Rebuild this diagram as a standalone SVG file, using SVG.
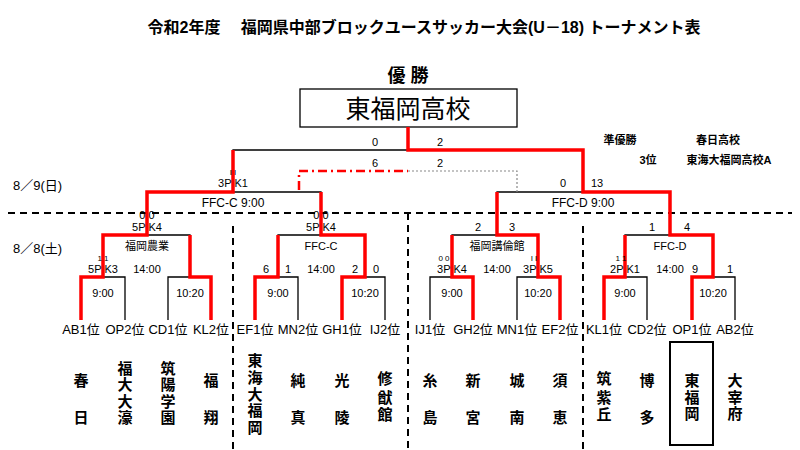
<svg xmlns="http://www.w3.org/2000/svg" width="800" height="450" viewBox="0 0 800 450">
<style>
text{font-family:"Liberation Sans","Noto Sans CJK JP",sans-serif;fill:#000}
.s{font-size:11px;text-anchor:middle}
.m{font-size:12px;text-anchor:middle}
.l{font-size:13px;text-anchor:middle}
.n{font-size:15px;text-anchor:middle;font-weight:bold}
.b{fill:none;stroke:#000;stroke-width:1.3}
.r{fill:none;stroke:#f00;stroke-width:3.5;stroke-linejoin:miter}
.d{fill:none;stroke:#000;stroke-width:2;stroke-dasharray:7,5}
</style>
<rect width="800" height="450" fill="#fff"/>
<text x="424" y="33" style="font-size:16px;font-weight:bold;text-anchor:middle">令和2年度　 福岡県中部ブロックユースサッカー大会(U－18)  トーナメント表</text>
<text x="408" y="82" style="font-size:18px;font-weight:bold;text-anchor:middle">優 勝</text>
<g id="champion"><rect x="300" y="89" width="217" height="38" fill="#fff" stroke="#000" stroke-width="1.3"/>
<text x="408" y="118" style="font-size:25px;text-anchor:middle">東福岡高校</text></g>
<g id="results" style="font-size:10px;font-weight:bold">
<text x="620" y="144" class="s" style="font-weight:bold">準優勝</text><text x="718" y="144" class="s" style="font-weight:bold">春日高校</text>
<text x="648" y="164" class="s" style="font-weight:bold">3位</text><text x="729" y="164" class="s" style="font-weight:bold">東海大福岡高校A</text>
</g>
<text x="13" y="190" style="font-size:13px">8／9(日)</text>
<text x="13" y="253" style="font-size:13px">8／8(土)</text>
<g id="grid">
<line x1="8" y1="213" x2="792" y2="213" class="d"/>
<line x1="233" y1="226" x2="233" y2="450" class="d"/>
<line x1="408" y1="213" x2="408" y2="450" class="d"/>
<line x1="583" y1="226" x2="583" y2="450" class="d"/>
</g>
<g id="connectors">
<path class="b" d="M81 320V277H125V320M168 320V277H211V320M255 320V277H298V320M342 320V277H385V320M430 320V277H473V320M517 320V277H560V320M604 320V277H647V320M692 320V277H735V320"/>
<path class="b" d="M103 277V235H190V277M278 277V235H365V277M452 277V235H538V277M625 277V235H713V277"/>
<path class="b" d="M147 235V192H321V235M497 235V192H670V235M233 192V150H583V192M408 150V127"/>
<path d="M408 171H517V192" fill="none" stroke="#888" stroke-width="1.2" stroke-dasharray="2,2"/>
<path d="M299 190V171H408" fill="none" stroke="#f00" stroke-width="2.5" stroke-dasharray="9,4,2,4"/>
<path class="r" d="M81 320V277H103V235H147V192H233V150"/>
<path class="r" d="M211 320V277H190V235"/>
<path class="r" d="M255 320V277H278V235"/>
<path class="r" d="M342 320V277H365V235H321V192"/>
<path class="r" d="M473 320V277H452V235"/>
<path class="r" d="M560 320V277H538V235H497V192"/>
<path class="r" d="M604 320V277H625V235"/>
<path class="r" d="M692 320V277H713V235H670V192H583V150H408V127"/>
</g>
<g id="labels">
<text x="375" y="146" class="s">0</text><text x="440" y="146" class="s">2</text>
<text x="375" y="167" class="s">6</text><text x="440" y="167" class="s">2</text>
<text x="233" y="175" class="s" style="font-size:8px">I  I</text><text x="233" y="187" class="s">3P K1</text>
<text x="233" y="207" class="m">FFC-C  9:00</text><text x="583" y="207" class="m">FFC-D  9:00</text>
<text x="563" y="187" class="s">0</text><text x="597" y="187" class="s">13</text>
<text x="147" y="219" class="s">0 0</text><text x="147" y="231" class="s">5P K4</text>
<text x="321" y="219" class="s">0 0</text><text x="321" y="231" class="s">5P K4</text>
<text x="478" y="231" class="s">2</text><text x="512" y="231" class="s">3</text>
<text x="652" y="231" class="s">1</text><text x="687" y="231" class="s">4</text>
<text x="147" y="250" class="s">福岡農業</text><text x="321" y="250" class="s">FFC-C</text>
<text x="497" y="250" class="s">福岡講倫館</text><text x="670" y="250" class="s">FFC-D</text>
<text x="103" y="261" class="s" style="font-size:8px">1 1</text><text x="103" y="273" class="s">5P K3</text>
<text x="444" y="261" class="s" style="font-size:8px">0 0</text><text x="452" y="273" class="s">3P K4</text>
<text x="534" y="261" class="s" style="font-size:8px">I  I</text><text x="538" y="273" class="s">3P K5</text>
<text x="621" y="261" class="s" style="font-size:8px">1 1</text><text x="625" y="273" class="s">2P K1</text>
<text x="266" y="273" class="s">6</text><text x="288" y="273" class="s">1</text>
<text x="355" y="273" class="s">2</text><text x="376" y="273" class="s">0</text>
<text x="695" y="273" class="s">9</text><text x="730" y="273" class="s">1</text>
<text x="147" y="273" class="s">14:00</text><text x="321" y="273" class="s">14:00</text>
<text x="497" y="273" class="s">14:00</text><text x="670" y="273" class="s">14:00</text>
<text x="103" y="297" class="s">9:00</text><text x="190" y="297" class="s">10:20</text>
<text x="278" y="297" class="s">9:00</text><text x="365" y="297" class="s">10:20</text>
<text x="452" y="297" class="s">9:00</text><text x="538" y="297" class="s">10:20</text>
<text x="625" y="297" class="s">9:00</text><text x="713" y="297" class="s">10:20</text>
</g>
<g id="leaves" class="l">
<text x="81" y="334" class="l">AB1位</text><text x="125" y="334" class="l">OP2位</text>
<text x="168" y="334" class="l">CD1位</text><text x="211" y="334" class="l">KL2位</text>
<text x="255" y="334" class="l">EF1位</text><text x="298" y="334" class="l">MN2位</text>
<text x="342" y="334" class="l">GH1位</text><text x="385" y="334" class="l">IJ2位</text>
<text x="430" y="334" class="l">IJ1位</text><text x="473" y="334" class="l">GH2位</text>
<text x="517" y="334" class="l">MN1位</text><text x="560" y="334" class="l">EF2位</text>
<text x="604" y="334" class="l">KL1位</text><text x="647" y="334" class="l">CD2位</text>
<text x="692" y="334" class="l">OP1位</text><text x="735" y="334" class="l">AB2位</text>
</g>
<g id="schools">
<rect x="670" y="342" width="43" height="103" fill="none" stroke="#000" stroke-width="2"/>
<text class="n"><tspan x="81" y="386">春</tspan><tspan x="81" y="423">日</tspan></text>
<text class="n"><tspan x="125" y="374">福</tspan><tspan x="125" y="390">大</tspan><tspan x="125" y="407">大</tspan><tspan x="125" y="423">濠</tspan></text>
<text class="n"><tspan x="168" y="374">筑</tspan><tspan x="168" y="390">陽</tspan><tspan x="168" y="407">学</tspan><tspan x="168" y="423">園</tspan></text>
<text class="n"><tspan x="211" y="386">福</tspan><tspan x="211" y="423">翔</tspan></text>
<text class="n"><tspan x="255" y="366">東</tspan><tspan x="255" y="383">海</tspan><tspan x="255" y="400">大</tspan><tspan x="255" y="416">福</tspan><tspan x="255" y="433">岡</tspan></text>
<text class="n"><tspan x="298" y="386">純</tspan><tspan x="298" y="423">真</tspan></text>
<text class="n"><tspan x="342" y="386">光</tspan><tspan x="342" y="423">陵</tspan></text>
<text class="n"><tspan x="385" y="384">修</tspan><tspan x="385" y="403">猷</tspan><tspan x="385" y="420">館</tspan></text>
<text class="n"><tspan x="430" y="386">糸</tspan><tspan x="430" y="423">島</tspan></text>
<text class="n"><tspan x="473" y="386">新</tspan><tspan x="473" y="423">宮</tspan></text>
<text class="n"><tspan x="517" y="386">城</tspan><tspan x="517" y="423">南</tspan></text>
<text class="n"><tspan x="560" y="386">須</tspan><tspan x="560" y="423">恵</tspan></text>
<text class="n"><tspan x="604" y="384">筑</tspan><tspan x="604" y="403">紫</tspan><tspan x="604" y="420">丘</tspan></text>
<text class="n"><tspan x="647" y="386">博</tspan><tspan x="647" y="423">多</tspan></text>
<text class="n"><tspan x="692" y="386">東</tspan><tspan x="692" y="403">福</tspan><tspan x="692" y="419">岡</tspan></text>
<text class="n"><tspan x="735" y="386">大</tspan><tspan x="735" y="403">宰</tspan><tspan x="735" y="419">府</tspan></text>
</g>
</svg>
